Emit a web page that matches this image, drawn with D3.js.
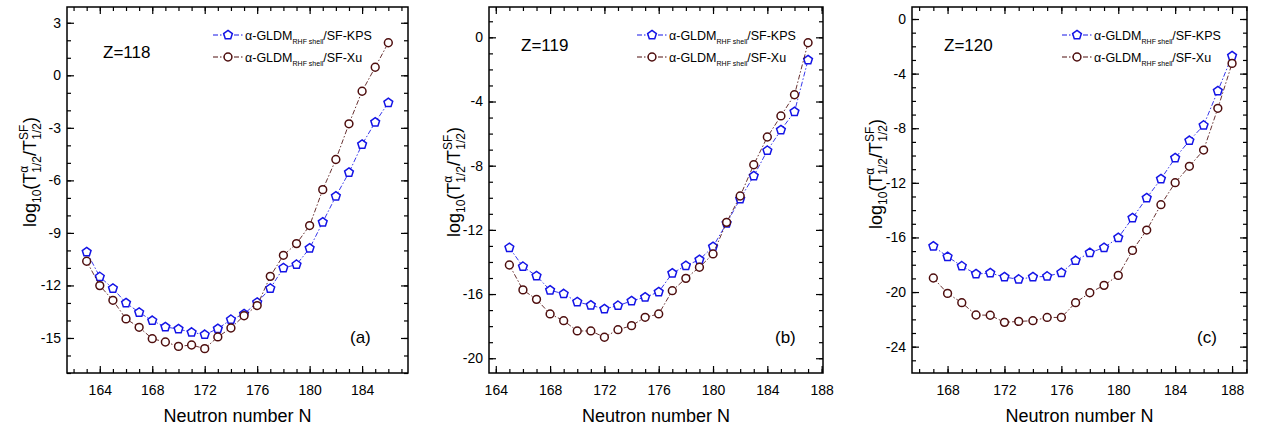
<!DOCTYPE html>
<html>
<head>
<meta charset="utf-8">
<script src="https://cdn.jsdelivr.net/npm/d3@7"></script>
<style>
html,body{margin:0;padding:0;background:#fff;}
svg{display:block;font-family:"Liberation Sans",Arial,sans-serif;}
</style>
</head>
<body>
<svg id="chart" width="1268" height="432"></svg>
<script>
// ---------- data ----------
const nA = d3.range(163, 187);   // Z=118, N = 163..186
const kpsA = [-10.09,-11.51,-12.17,-13.0,-13.54,-14.01,-14.37,-14.49,-14.68,-14.81,-14.47,-13.95,-13.63,-12.97,-12.17,-11.0,-10.81,-9.88,-8.39,-6.91,-5.55,-3.95,-2.68,-1.57];
const xuA  = [-10.62,-12.01,-12.85,-13.91,-14.39,-15.04,-15.23,-15.48,-15.4,-15.61,-14.94,-14.43,-13.73,-13.15,-11.48,-10.28,-9.61,-8.58,-6.53,-4.81,-2.77,-0.91,0.46,1.86];

const nB = d3.range(165, 188);   // Z=119, N = 165..187
const kpsB = [-13.11,-14.29,-14.87,-15.76,-15.99,-16.49,-16.7,-16.93,-16.72,-16.43,-16.2,-15.87,-14.7,-14.23,-13.86,-13.05,-11.59,-10.07,-8.64,-7.06,-5.78,-4.64,-1.41];
const xuB  = [-14.19,-15.74,-16.33,-17.24,-17.66,-18.3,-18.3,-18.69,-18.22,-17.97,-17.45,-17.24,-15.79,-15.02,-14.33,-13.5,-11.53,-9.89,-7.94,-6.21,-4.9,-3.58,-0.34];

const nC = d3.range(167, 189);   // Z=120, N = 167..188
const kpsC = [-16.65,-17.41,-18.1,-18.68,-18.61,-18.9,-19.07,-18.9,-18.85,-18.58,-17.7,-17.12,-16.75,-16.02,-14.58,-13.11,-11.72,-10.18,-8.91,-7.79,-5.27,-2.71];
const xuC  = [-18.97,-20.1,-20.78,-21.68,-21.7,-22.22,-22.15,-22.1,-21.86,-21.86,-20.78,-20.05,-19.51,-18.78,-16.95,-15.46,-13.6,-11.99,-10.79,-9.6,-6.54,-3.25];

const xTicksA = [164,168,172,176,180,184];
const yTicksA = [-15,-12,-9,-6,-3,0,3];
const xTicksB = [164,168,172,176,180,184,188];
const yTicksB = [-20,-16,-12,-8,-4,0];
const xTicksC = [168,172,176,180,184,188];
const yTicksC = [-24,-20,-16,-12,-8,-4,0];

const zLabels = ["Z=118","Z=119","Z=120"];
const panelLabels = ["(a)","(b)","(c)"];
const seriesNames = ["/SF-KPS","/SF-Xu"];

// ---------- layout ----------
const panels = [
  {n:nA, kps:kpsA, xu:xuA, xt:xTicksA, yt:yTicksA, xd:[161.5,187.5], yd:[-17,3.9], x0:67, x1:408,
   zx:103, zy:58, px:350, legX:228, ytx:36, yty:172},
  {n:nB, kps:kpsB, xu:xuB, xt:xTicksB, yt:yTicksB, xd:[163.5,188.1], yd:[-20.92,1.89], x0:489, x1:823,
   zx:521, zy:51, px:775, legX:652, ytx:460, yty:182},
  {n:nC, kps:kpsC, xu:xuC, xt:xTicksC, yt:yTicksC, xd:[165.5,189.05], yd:[-25.93,0.88], x0:912, x1:1247,
   zx:944, zy:51, px:1197, legX:1077, ytx:882, yty:174}
];
const plotTop = 7, plotBottom = 373;
const blue = "#1414e6", brown = "#4e0e0e";

const svg = d3.select("#chart");

function pentagon(r){
  const pts = d3.range(5).map(i => {
    const a = -Math.PI/2 + i*2*Math.PI/5;
    return [r*Math.cos(a), r*Math.sin(a)];
  });
  return "M" + pts.map(p => p.join(",")).join("L") + "Z";
}
const circlePath = d3.symbol(d3.symbolCircle, 48)();
const pentPath = pentagon(4.6);

panels.forEach((p, i) => {
  const x = d3.scaleLinear().domain(p.xd).range([p.x0, p.x1]);
  const y = d3.scaleLinear().domain(p.yd).range([plotBottom, plotTop]);
  const g = svg.append("g");

  const xMinor = d3.range(Math.ceil(p.xd[0]), Math.floor(p.xd[1]) + 1);
  const yMinor = d3.range(Math.ceil(p.yd[0]), Math.floor(p.yd[1]) + 1);

  function styleAxis(sel){
    sel.select(".domain").remove();
    sel.selectAll("line").attr("stroke","#000").attr("stroke-width",1.2);
    sel.selectAll("text").attr("font-size",14).attr("fill","#000")
       .attr("font-family","'Liberation Sans',Arial,sans-serif");
  }
  // minor ticks
  g.append("g").attr("transform",`translate(0,${plotBottom})`)
    .call(d3.axisBottom(x).tickValues(xMinor).tickSize(-4).tickFormat("")).call(styleAxis);
  g.append("g").attr("transform",`translate(0,${plotTop})`)
    .call(d3.axisTop(x).tickValues(xMinor).tickSize(-4).tickFormat("")).call(styleAxis);
  g.append("g").attr("transform",`translate(${p.x0},0)`)
    .call(d3.axisLeft(y).tickValues(yMinor).tickSize(-4).tickFormat("")).call(styleAxis);
  g.append("g").attr("transform",`translate(${p.x1},0)`)
    .call(d3.axisRight(y).tickValues(yMinor).tickSize(-4).tickFormat("")).call(styleAxis);
  // major ticks
  g.append("g").attr("transform",`translate(0,${plotBottom})`)
    .call(d3.axisBottom(x).tickValues(p.xt).tickSize(-7).tickPadding(12).tickFormat(d3.format("d"))).call(styleAxis);
  g.append("g").attr("transform",`translate(0,${plotTop})`)
    .call(d3.axisTop(x).tickValues(p.xt).tickSize(-7).tickFormat("")).call(styleAxis);
  g.append("g").attr("transform",`translate(${p.x0},0)`)
    .call(d3.axisLeft(y).tickValues(p.yt).tickSize(-7).tickPadding(6).tickFormat(d => d3.format("d")(d).replace("\u2212","-"))).call(styleAxis);
  g.append("g").attr("transform",`translate(${p.x1},0)`)
    .call(d3.axisRight(y).tickValues(p.yt).tickSize(-7).tickFormat("")).call(styleAxis);

  // frame
  g.append("rect").attr("x",p.x0).attr("y",plotTop).attr("width",p.x1-p.x0).attr("height",plotBottom-plotTop)
    .attr("fill","none").attr("stroke","#000").attr("stroke-width",1.5);

  // series
  const series = [
    {vals:p.kps, color:blue, shape:"pent", dash:"5,2,1.5,2"},
    {vals:p.xu, color:brown, shape:"circ", dash:"5,2,1.5,2"}
  ];
  series.forEach(s => {
    const data = p.n.map((nv, j) => [nv, s.vals[j]]);
    g.append("path").datum(data)
      .attr("d", d3.line().x(d => x(d[0])).y(d => y(d[1])))
      .attr("fill","none").attr("stroke",s.color).attr("stroke-width",1)
      .attr("stroke-dasharray",s.dash).attr("opacity",0.85);
    g.append("g").selectAll("path").data(data).join("path")
      .attr("transform", d => `translate(${x(d[0])},${y(d[1])})`)
      .attr("d", s.shape === "pent" ? pentPath : circlePath)
      .attr("fill","#fff").attr("stroke",s.color).attr("stroke-width",1.5);
  });

  // legend
  series.forEach((s, k) => {
    const ly = 35 + k*22;
    const lx = p.legX;
    g.append("line").attr("x1",lx-15).attr("x2",lx+15).attr("y1",ly).attr("y2",ly)
      .attr("stroke",s.color).attr("stroke-width",1).attr("stroke-dasharray","5,2,1.5,2");
    g.append("path").attr("transform",`translate(${lx},${ly})`)
      .attr("d", s.shape === "pent" ? pentPath : circlePath)
      .attr("fill","#fff").attr("stroke",s.color).attr("stroke-width",1.5);
    const t = g.append("text").attr("x",lx+17).attr("y",ly+4.5)
      .attr("font-size",12.5).attr("fill","#000");
    t.append("tspan").text("\u03B1-GLDM");
    t.append("tspan").attr("font-size",7).attr("dy",4).text("RHF shell");
    t.append("tspan").attr("dy",-4).text(seriesNames[k]);
  });

  // Z label & panel label
  g.append("text").attr("x",p.zx).attr("y",p.zy).attr("font-size",17).text(zLabels[i]);
  g.append("text").attr("x",p.px).attr("y",343).attr("font-size",17).text(panelLabels[i]);

  // x title
  g.append("text").attr("x",(p.x0+p.x1)/2).attr("y",422).attr("text-anchor","middle")
    .attr("font-size",18).text("Neutron number N");

  // y title
  const yt = g.append("text").attr("transform",`translate(${p.ytx},${p.yty}) rotate(-90)`)
    .attr("text-anchor","middle").attr("font-size",18);
  yt.append("tspan").text("log");
  yt.append("tspan").attr("font-size",12).attr("dy",5).text("10");
  yt.append("tspan").attr("dy",-5).text("(T");
  yt.append("tspan").attr("font-size",12).attr("dy",-8).text("\u03B1");
  yt.append("tspan").attr("font-size",12).attr("dx",-7).attr("dy",13).text("1/2");
  yt.append("tspan").attr("dy",-5).text("/T");
  yt.append("tspan").attr("font-size",12).attr("dy",-8).text("SF");
  yt.append("tspan").attr("font-size",12).attr("dx",-15).attr("dy",13).text("1/2");
  yt.append("tspan").attr("dy",-5).text(")");
});
</script>
</body>
</html>
